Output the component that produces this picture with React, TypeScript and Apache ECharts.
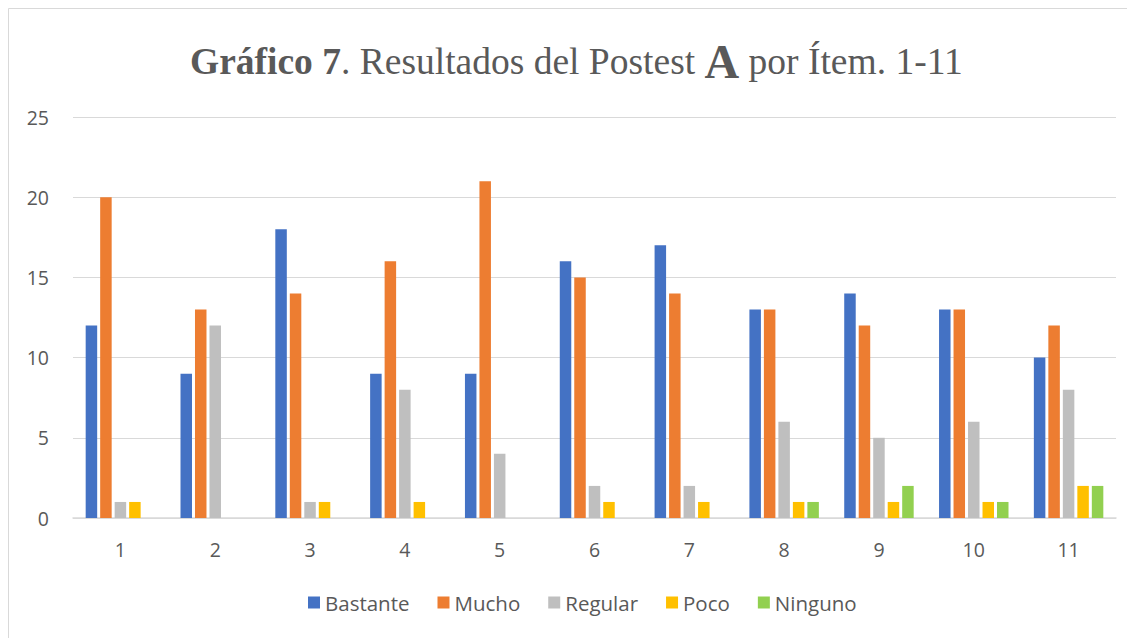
import React, { useEffect, useRef } from "react";
import * as echarts from "echarts";

const categories = ["1", "2", "3", "4", "5", "6", "7", "8", "9", "10", "11"];
const bastante = [12, 9, 18, 9, 9, 16, 17, 13, 14, 13, 10];
const mucho = [20, 13, 14, 16, 21, 15, 14, 13, 12, 13, 12];
const regular = [1, 12, 1, 8, 4, 2, 2, 6, 5, 6, 8];
const poco = [1, 0, 1, 1, 0, 1, 1, 1, 1, 1, 2];
const ninguno = [0, 0, 0, 0, 0, 0, 0, 1, 2, 1, 2];
const seriesNames = ["Bastante", "Mucho", "Regular", "Poco", "Ninguno"];
const colors = ["#4472C4", "#ED7D31", "#BFBFBF", "#FFC000", "#92D050"];
const yTicks = { min: 0, max: 25, interval: 5 };

export default function App() {
  const ref = useRef<HTMLDivElement>(null);
  useEffect(() => {
    if (!ref.current) return;
    const chart = echarts.init(ref.current, null, { renderer: "svg" });
    const values = [bastante, mucho, regular, poco, ninguno];
    const labelFont = "'Open Sans', sans-serif";
    const serif = "'Liberation Serif', serif";
    chart.setOption({
      animation: false,
      backgroundColor: "#ffffff",
      title: {
        left: 177,
        top: 24,
        text: "{b|Gráfico 7}{n|. Resultados del Postest }{a|A}{n| por Ítem. 1-11}",
        textStyle: {
          fontWeight: "normal",
          rich: {
            b: { fontFamily: serif, fontWeight: "bold", fontSize: 37.5, color: "#595959" },
            n: { fontFamily: serif, fontWeight: "normal", fontSize: 37.5, color: "#595959" },
            a: { fontFamily: serif, fontWeight: "bold", fontSize: 48, color: "#595959" },
          },
        },
      },
      graphic: [
        {
          type: "polyline",
          shape: { points: [[0.5, 630], [0.5, 0.5], [1127, 0.5]] },
          style: { stroke: "#D9D9D9", fill: "none", lineWidth: 1 },
        },
      ],
      legend: {
        bottom: 20,
        left: 295,
        itemWidth: 12,
        itemHeight: 12,
        itemGap: 28,
        icon: "rect",
        textStyle: { fontFamily: labelFont, fontSize: 20.5, color: "#595959", padding: [0, 0, 0, 0] },
        data: seriesNames,
      },
      grid: { left: 65, right: 19, top: 109, bottom: 120 },
      xAxis: {
        type: "category",
        data: categories,
        axisLine: { lineStyle: { color: "#D9D9D9", width: 1.5 } },
        axisTick: { show: false },
        axisLabel: { fontFamily: labelFont, fontSize: 19.5, color: "#595959", margin: 21 },
      },
      yAxis: {
        type: "value",
        min: yTicks.min,
        max: yTicks.max,
        interval: yTicks.interval,
        axisLine: { show: false },
        axisTick: { show: false },
        splitLine: { lineStyle: { color: "#D9D9D9", width: 1 } },
        axisLabel: { fontFamily: labelFont, fontSize: 19.5, color: "#595959", margin: 24 },
      },
      series: seriesNames.map((name, i) => ({
        name,
        type: "bar",
        data: values[i],
        barWidth: 11.5,
        barGap: "26%",
        itemStyle: { color: colors[i] },
      })),
    });
    return () => chart.dispose();
  }, []);
  return <div ref={ref} style={{ width: 1127, height: 630 }} />;
}
